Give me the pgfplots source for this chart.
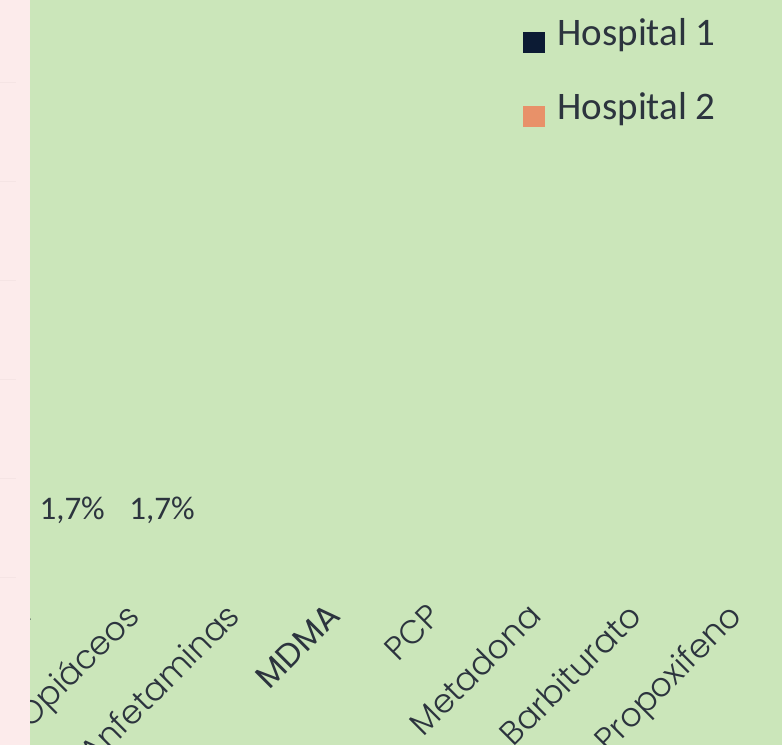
\documentclass[border=0pt]{standalone}
\usepackage{pgfplots}
\pgfplotsset{compat=1.18}
\usepackage{fontspec}
\setmainfont{Carlito}
\newfontfamily\catfont{Poppins Light}
\newfontfamily\catfontreg{Poppins}
\definecolor{pinkbg}{RGB}{252,235,235}
\definecolor{greenbg}{RGB}{203,230,186}
\definecolor{navy}{RGB}{12,27,52}
\definecolor{orangec}{RGB}{232,145,105}
\definecolor{txt}{RGB}{44,52,62}
\definecolor{gridc}{RGB}{245,228,228}
\begin{document}
\begin{tikzpicture}
\useasboundingbox (0,0) rectangle (782bp,745bp);
\clip (0,0) rectangle (782bp,745bp);
\fill[greenbg] (0,0) rectangle (782bp,745bp);
\begin{axis}[
  at={(30bp,168bp)}, anchor=south west,
  scale only axis, width=752bp, height=577bp,
  xmin=-0.1, xmax=7.39, ymin=0, ymax=58.3,
  axis line style={draw=none},
  major tick length=0pt,
  ytick=\empty,
  xtick={-0.08,1,2,3,4,5,6,7},
  xticklabels={Cocaína,Opiáceos,Anfetaminas,{\catfontreg MDMA},PCP,Metadona,Barbiturato,Propoxifeno},
  xticklabel style={yshift=-41bp, xshift=1bp, rotate=45, anchor=base east, inner sep=0pt,
    font=\catfont\fontsize{33bp}{40bp}\selectfont, text=txt},
  legend style={at={(rel axis cs:0.652,0.9715)}, anchor=north west, draw=none, fill=none,
    font=\fontsize{39bp}{47bp}\selectfont, text=txt, row sep=40bp,
    nodes={inner sep=0pt},
    /tikz/every odd column/.append style={column sep=12bp}},
  legend cell align=left,
  legend image code/.code={\fill[#1] (0bp,-20bp) rectangle (22bp,1bp);},
  clip=false,
]
\addlegendimage{fill=navy, draw=none}
\addlegendentry{Hospital 1}
\addlegendimage{fill=orangec, draw=none}
\addlegendentry{Hospital 2}
\addplot[ybar, bar width=20bp, bar shift=0pt, draw=none, fill=none, forget plot,
  nodes near coords={\pgfmathprintnumber[use comma,fixed,precision=1]{\pgfplotspointmeta}\%},
  nodes near coords style={anchor=center, yshift=50bp, text=txt,
    font=\fontsize{33bp}{40bp}\selectfont, /pgf/number format/assume math mode=true}]
  coordinates {(0.32,1.7) (1.215,1.7)};
\end{axis}
\fill[pinkbg] (0,0) rectangle (30bp,745bp);
\foreach \yy in {168,267,366,465,564,663} {
  \draw[gridc, line width=0.8bp] (0,\yy bp) -- (16bp,\yy bp);
}
\end{tikzpicture}
\end{document}
